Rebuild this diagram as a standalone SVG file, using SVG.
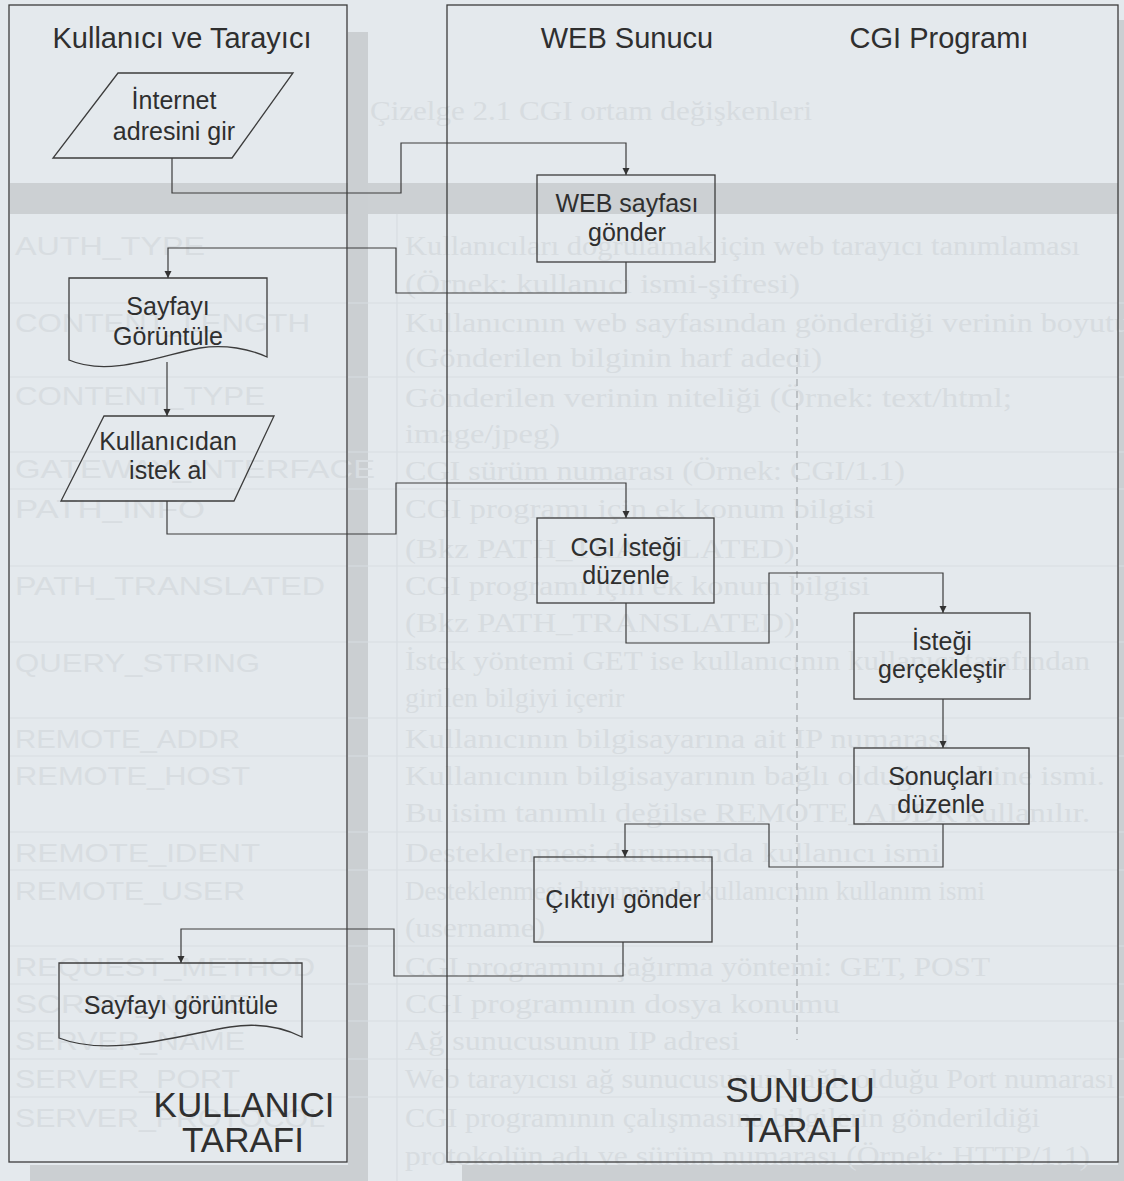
<svg xmlns="http://www.w3.org/2000/svg" width="1124" height="1181" viewBox="0 0 1124 1181">
  <defs>
    <marker id="arrow" viewBox="0 0 10 10" refX="10" refY="5" markerWidth="7" markerHeight="9" markerUnits="userSpaceOnUse" orient="auto">
      <path d="M0,0 L10,5 L0,10 z" fill="#333"/>
    </marker>
    <style>
      .page{fill:#e4e9ed}
      .shade{fill:#cbcfd2}
      .band{fill:#ccd0d3}
      .rule{stroke:#d8dde1;stroke-width:1.2;fill:none}
      .gname{font-family:"Liberation Sans",Arial,sans-serif;font-size:26px;fill:#d8dde1}
      .gdesc{font-family:"Liberation Serif","Times New Roman",serif;font-size:28px;fill:#d7dce0}
      .lane{fill:none;stroke:#3c3c3c;stroke-width:1.3}
      .shape{fill:none;stroke:#3c3c3c;stroke-width:1.3}
      .conn{fill:none;stroke:#3c3c3c;stroke-width:1.2}
      .sep{fill:none;stroke:#a3a7ab;stroke-width:1.2;stroke-dasharray:7 5}
      .t{font-family:"Liberation Sans",Arial,sans-serif;font-size:25px;fill:#2f2f2f;text-anchor:middle}
      .h{font-size:29px}
      .side{font-size:35px}
    </style>
  </defs>

  <!-- paper and the faded table printed underneath -->
  <g id="paper">
    <rect class="page" x="0" y="0" width="1124" height="1181"/>
    <rect class="band" x="10" y="183" width="1114" height="31"/>
    <rect class="shade" x="348" y="32" width="20" height="1149"/>
    <rect class="shade" x="30" y="1165" width="338" height="16"/>
    <rect class="shade" x="462" y="1165" width="662" height="16"/>
    <rect class="shade" x="1118" y="20" width="6" height="1161"/>
    <line class="rule" x1="397" y1="214" x2="397" y2="1181"/>
    <g class="rule">
      <line x1="10" y1="303" x2="1124" y2="303"/>
      <line x1="10" y1="377" x2="1124" y2="377"/>
      <line x1="10" y1="452" x2="1124" y2="452"/>
      <line x1="10" y1="489" x2="1124" y2="489"/>
      <line x1="10" y1="566" x2="1124" y2="566"/>
      <line x1="10" y1="642" x2="1124" y2="642"/>
      <line x1="10" y1="718" x2="1124" y2="718"/>
      <line x1="10" y1="756" x2="1124" y2="756"/>
      <line x1="10" y1="832" x2="1124" y2="832"/>
      <line x1="10" y1="870" x2="1124" y2="870"/>
      <line x1="10" y1="946" x2="1124" y2="946"/>
      <line x1="10" y1="984" x2="1124" y2="984"/>
      <line x1="10" y1="1021" x2="1124" y2="1021"/>
      <line x1="10" y1="1059" x2="1124" y2="1059"/>
      <line x1="10" y1="1097" x2="1124" y2="1097"/>
    </g>
    <text class="gdesc" x="370" y="120" textLength="442" lengthAdjust="spacingAndGlyphs">Çizelge 2.1 CGI ortam değişkenleri</text>
    <g class="gname">
      <text x="15" y="255" textLength="190" lengthAdjust="spacingAndGlyphs">AUTH_TYPE</text>
      <text x="15" y="332" textLength="295" lengthAdjust="spacingAndGlyphs">CONTENT_LENGTH</text>
      <text x="15" y="405" textLength="250" lengthAdjust="spacingAndGlyphs">CONTENT_TYPE</text>
      <text x="15" y="478" textLength="360" lengthAdjust="spacingAndGlyphs">GATEWAY_INTERFACE</text>
      <text x="15" y="518" textLength="190" lengthAdjust="spacingAndGlyphs">PATH_INFO</text>
      <text x="15" y="595" textLength="310" lengthAdjust="spacingAndGlyphs">PATH_TRANSLATED</text>
      <text x="15" y="672" textLength="245" lengthAdjust="spacingAndGlyphs">QUERY_STRING</text>
      <text x="15" y="748" textLength="225" lengthAdjust="spacingAndGlyphs">REMOTE_ADDR</text>
      <text x="15" y="785" textLength="235" lengthAdjust="spacingAndGlyphs">REMOTE_HOST</text>
      <text x="15" y="862" textLength="245" lengthAdjust="spacingAndGlyphs">REMOTE_IDENT</text>
      <text x="15" y="900" textLength="230" lengthAdjust="spacingAndGlyphs">REMOTE_USER</text>
      <text x="15" y="976" textLength="300" lengthAdjust="spacingAndGlyphs">REQUEST_METHOD</text>
      <text x="15" y="1013" textLength="235" lengthAdjust="spacingAndGlyphs">SCRIPT_NAME</text>
      <text x="15" y="1050" textLength="230" lengthAdjust="spacingAndGlyphs">SERVER_NAME</text>
      <text x="15" y="1088" textLength="225" lengthAdjust="spacingAndGlyphs">SERVER_PORT</text>
      <text x="15" y="1127" textLength="310" lengthAdjust="spacingAndGlyphs">SERVER_PROTOCOL</text>
    </g>
    <g class="gdesc">
      <text x="405" y="255" textLength="675" lengthAdjust="spacingAndGlyphs">Kullanıcıları doğrulamak için web tarayıcı tanımlaması</text>
      <text x="405" y="293" textLength="395" lengthAdjust="spacingAndGlyphs">(Örnek: kullanıcı ismi-şifresi)</text>
      <text x="405" y="332" textLength="725" lengthAdjust="spacingAndGlyphs">Kullanıcının web sayfasından gönderdiği verinin boyutu</text>
      <text x="405" y="367" textLength="417" lengthAdjust="spacingAndGlyphs">(Gönderilen bilginin harf adedi)</text>
      <text x="405" y="407" textLength="607" lengthAdjust="spacingAndGlyphs">Gönderilen verinin niteliği (Örnek: text/html;</text>
      <text x="405" y="443" textLength="155" lengthAdjust="spacingAndGlyphs">image/jpeg)</text>
      <text x="405" y="480" textLength="500" lengthAdjust="spacingAndGlyphs">CGI sürüm numarası (Örnek: CGI/1.1)</text>
      <text x="405" y="518" textLength="470" lengthAdjust="spacingAndGlyphs">CGI programı için ek konum bilgisi</text>
      <text x="405" y="558" textLength="390" lengthAdjust="spacingAndGlyphs">(Bkz PATH_TRANSLATED)</text>
      <text x="405" y="595" textLength="465" lengthAdjust="spacingAndGlyphs">CGI programı için ek konum bilgisi</text>
      <text x="405" y="632" textLength="390" lengthAdjust="spacingAndGlyphs">(Bkz PATH_TRANSLATED)</text>
      <text x="405" y="670" textLength="685" lengthAdjust="spacingAndGlyphs">İstek yöntemi GET ise kullanıcının kullanıcı tarafından</text>
      <text x="405" y="707">girilen bilgiyi içerir</text>
      <text x="405" y="748" textLength="545" lengthAdjust="spacingAndGlyphs">Kullanıcının bilgisayarına ait IP numarası</text>
      <text x="405" y="785" textLength="700" lengthAdjust="spacingAndGlyphs">Kullanıcının bilgisayarının bağlı olduğu makine ismi.</text>
      <text x="405" y="822" textLength="685" lengthAdjust="spacingAndGlyphs">Bu isim tanımlı değilse REMOTE_ADDR kullanılır.</text>
      <text x="405" y="862" textLength="535" lengthAdjust="spacingAndGlyphs">Desteklenmesi durumunda kullanıcı ismi</text>
      <text x="405" y="900" textLength="580" lengthAdjust="spacingAndGlyphs">Desteklenmesi durumunda kullanıcının kullanım ismi</text>
      <text x="405" y="937" textLength="140" lengthAdjust="spacingAndGlyphs">(username)</text>
      <text x="405" y="976" textLength="585" lengthAdjust="spacingAndGlyphs">CGI programını çağırma yöntemi: GET, POST</text>
      <text x="405" y="1013" textLength="435" lengthAdjust="spacingAndGlyphs">CGI programının dosya konumu</text>
      <text x="405" y="1050" textLength="335" lengthAdjust="spacingAndGlyphs">Ağ sunucusunun IP adresi</text>
      <text x="405" y="1088" textLength="710" lengthAdjust="spacingAndGlyphs">Web tarayıcısı ağ sunucusunun bağlı olduğu Port numarası</text>
      <text x="405" y="1127" textLength="635" lengthAdjust="spacingAndGlyphs">CGI programının çalışmasına bilgilerin gönderildiği</text>
      <text x="405" y="1165" textLength="685" lengthAdjust="spacingAndGlyphs">protokolün adı ve sürüm numarası (Örnek: HTTP/1.1)</text>
    </g>
  </g>

  <!-- swimlanes -->
  <g id="lane-client">
    <rect class="lane" x="9" y="5" width="338" height="1157"/>
    <text class="t h" x="182" y="48">Kullanıcı ve Tarayıcı</text>
    <text class="t side" x="244" y="1117">KULLANICI</text>
    <text class="t side" x="243" y="1152">TARAFI</text>
  </g>
  <g id="lane-server">
    <rect class="lane" x="447" y="5" width="671" height="1157"/>
    <line class="sep" x1="797" y1="355" x2="797" y2="1040"/>
    <text class="t h" x="627" y="48">WEB Sunucu</text>
    <text class="t h" x="939" y="48">CGI Programı</text>
    <text class="t side" x="800" y="1102">SUNUCU</text>
    <text class="t side" x="801" y="1142">TARAFI</text>
  </g>

  <!-- connectors -->
  <g id="connectors">
    <path class="conn" marker-end="url(#arrow)" d="M172,158 V193 H401 V143 H626 V175"/>
    <path class="conn" marker-end="url(#arrow)" d="M626,262 V293 H396 V248 H168 V278"/>
    <path class="conn" marker-end="url(#arrow)" d="M167,362 V416"/>
    <path class="conn" marker-end="url(#arrow)" d="M167,501 V534 H396 V483 H626 V518"/>
    <path class="conn" marker-end="url(#arrow)" d="M626,603 V643 H769 V573 H943 V613"/>
    <path class="conn" marker-end="url(#arrow)" d="M943,699 V748"/>
    <path class="conn" marker-end="url(#arrow)" d="M943,824 V867 H769 V824 H625 V857"/>
    <path class="conn" marker-end="url(#arrow)" d="M623,942 V976 H394 V929 H181 V963"/>
  </g>

  <!-- nodes -->
  <g id="enter-address">
    <polygon class="shape" points="118,73 293,73 232,158 53,158"/>
    <text class="t" x="174" y="109">İnternet</text>
    <text class="t" x="174" y="140">adresini gir</text>
  </g>
  <g id="send-page">
    <rect class="shape" x="537" y="175" width="178" height="87"/>
    <text class="t" x="627" y="212">WEB sayfası</text>
    <text class="t" x="627" y="241">gönder</text>
  </g>
  <g id="show-page">
    <path class="shape" d="M69,278 H267 V357 C250,349 225,344 200,348 C165,354 110,378 69,360 Z"/>
    <text class="t" x="168" y="315">Sayfayı</text>
    <text class="t" x="168" y="345">Görüntüle</text>
  </g>
  <g id="get-request">
    <polygon class="shape" points="104,416 274,416 234,501 61,501"/>
    <text class="t" x="168" y="450">Kullanıcıdan</text>
    <text class="t" x="168" y="479">istek al</text>
  </g>
  <g id="prepare-cgi">
    <rect class="shape" x="537" y="518" width="177" height="85"/>
    <text class="t" x="626" y="556">CGI İsteği</text>
    <text class="t" x="626" y="584">düzenle</text>
  </g>
  <g id="run-request">
    <rect class="shape" x="854" y="613" width="176" height="86"/>
    <text class="t" x="942" y="650">İsteği</text>
    <text class="t" x="942" y="678">gerçekleştir</text>
  </g>
  <g id="format-results">
    <rect class="shape" x="854" y="748" width="175" height="76"/>
    <text class="t" x="941" y="785">Sonuçları</text>
    <text class="t" x="941" y="813">düzenle</text>
  </g>
  <g id="send-output">
    <rect class="shape" x="534" y="857" width="178" height="85"/>
    <text class="t" x="623" y="908">Çıktıyı gönder</text>
  </g>
  <g id="display-page">
    <path class="shape" d="M59,963 H302 V1037 C280,1026 255,1023 230,1027 C180,1035 110,1058 59,1038 Z"/>
    <text class="t" x="181" y="1014">Sayfayı görüntüle</text>
  </g>
</svg>
